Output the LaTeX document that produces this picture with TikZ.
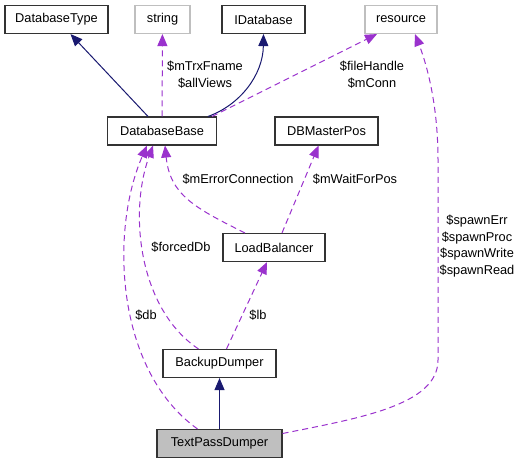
\documentclass[tikz,border=0pt]{standalone}
\usepackage{fontspec}
\setmainfont{Liberation Sans}
\usetikzlibrary{arrows.meta}
\definecolor{inhblue}{HTML}{191970}
\definecolor{usepurple}{HTML}{9A32CD}
\begin{document}
\begin{tikzpicture}[x=1pt,y=-1pt,
  font=\fontsize{12.8}{16.8}\selectfont,
  cls/.style={draw=black!80, line width=1.1pt, minimum height=28pt, inner sep=0pt, fill=white},
  ext/.style={cls, draw=black!25},
  inh/.style={draw=inhblue, line width=1pt, -{Triangle[length=12pt,width=10pt]}},
  use/.style={draw=usepurple, line width=1pt, dash pattern=on 6pt off 4pt, -{Triangle[length=12pt,width=10pt]}},
  lbl/.style={align=center, inner sep=0pt}]
\useasboundingbox (0,0) rectangle (521,464);
\node[cls, minimum width=103pt] (dbt) at (56.5,19.5) {DatabaseType};
\node[ext, minimum width=55pt] (str) at (162.5,19.5) {string};
\node[cls, minimum width=83pt] (idb) at (263.5,19.5) {IDatabase};
\node[ext, minimum width=72pt] (res) at (401,19.5) {resource};
\node[cls, minimum width=109pt] (dbb) at (162,131) {DatabaseBase};
\node[cls, minimum width=103pt] (dbmp) at (326.5,131) {DBMasterPos};
\node[cls, minimum width=102pt] (lb) at (274,247.5) {LoadBalancer};
\node[cls, minimum width=113pt] (bd) at (219.5,363.5) {BackupDumper};
\node[cls, minimum width=125pt, fill=black!25] (tpd) at (219.5,443.5) {TextPassDumper};
% labels
\node[lbl] (ltrx) at (205,75) {\$mTrxFname\\\$allViews};
\node[lbl] (lfile) at (372,75) {\$fileHandle\\\$mConn};
\node[lbl] (lerr) at (238,179) {\$mErrorConnection};
\node[lbl] (lwait) at (355,179) {\$mWaitForPos};
\node[lbl] (lforced) at (181,247) {\$forcedDb};
\node[lbl] (ldb) at (146,315) {\$db};
\node[lbl] (llb) at (258,315) {\$lb};
\node[lbl] (lspawn) at (477,246) {\$spawnErr\\\$spawnProc\\\$spawnWrite\\\$spawnRead};
% inheritance
\draw[inh] ([xshift=-14pt]dbb.north) -- ([xshift=14pt]dbt.south);
\draw[inh] ([xshift=46pt]dbb.north) .. controls (240,105) and (263,75) .. (idb.south);
\draw[inh] (tpd) -- (bd);
% usage
\draw[use] (dbb) -- (str);
\draw[use] ([xshift=50pt]dbb.north) -- ([xshift=-24pt]res.south);
\draw[use] ([xshift=-29pt]lb.north) .. controls (195,208) and (170,195) .. ([xshift=3pt]dbb.south);
\draw[use] ([xshift=8pt]lb.north) -- ([xshift=-8pt]dbmp.south);
\draw[use] ([xshift=-21pt]bd.north) .. controls (140,310) and (128,215) .. ([xshift=-9pt]dbb.south);
\draw[use] ([xshift=-22pt]tpd.north) .. controls (115,370) and (110,230) .. ([xshift=-15pt]dbb.south);
\draw[use] ([xshift=7pt]bd.north) -- ([xshift=-7pt]lb.south);
\draw[use] ([yshift=10pt]tpd.east) .. controls (360,418) and (438,405) .. (438,360)
  -- (438,160) .. controls (438,100) and (425,60) .. ([xshift=14pt]res.south);
\end{tikzpicture}
\end{document}
